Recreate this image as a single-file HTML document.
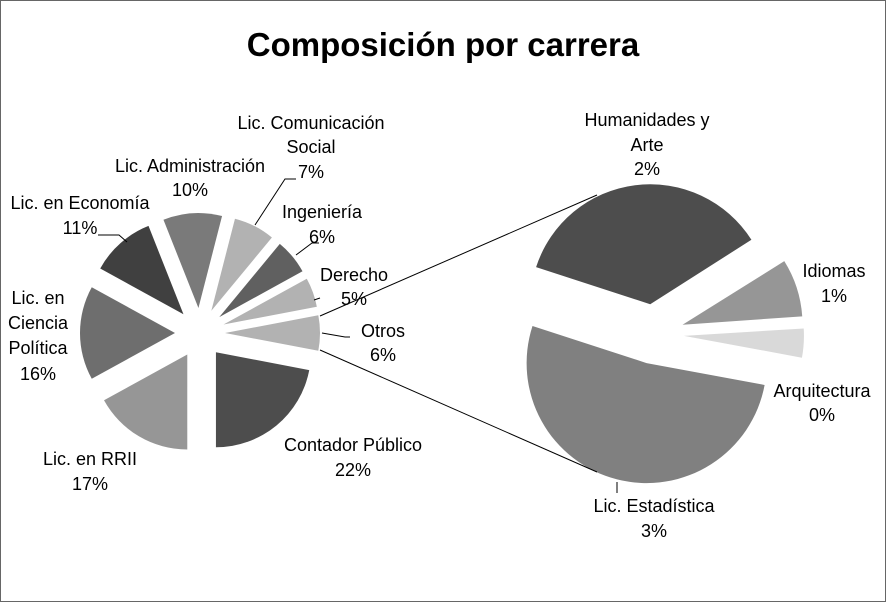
<!DOCTYPE html>
<html><head><meta charset="utf-8"><style>
html,body{margin:0;padding:0;background:#fff}
svg{display:block}
text{font-family:"Liberation Sans",sans-serif;font-size:18px;fill:#000}
</style></head><body>
<svg id="s" width="886" height="602" viewBox="0 0 886 602" xmlns="http://www.w3.org/2000/svg">
<rect x="0.5" y="0.5" width="885" height="601" fill="#fff" stroke="#666"/>
<text x="443" y="56" text-anchor="middle" style="font-size:33px;font-weight:bold">Composición por carrera</text>
<g id="pies"></g>
<g stroke="#000" stroke-width="1" fill="none">
<line x1="320" y1="316" x2="597" y2="195"/>
<line x1="320" y1="350" x2="597" y2="472"/>
<polyline points="255,225 285,179 296,179"/>
<polyline points="296,255 312,243 319,243"/>
<polyline points="322,333 345,337 350,337"/>
<polyline points="314,300 320,298"/>
<polyline points="127,242 119,235 98,235"/>
<line x1="617" y1="482" x2="617" y2="493"/>
</g>
<g text-anchor="middle">
<text x="311" y="129">Lic. Comunicación</text>
<text x="311" y="153">Social</text>
<text x="311" y="178">7%</text>
<text x="190" y="172">Lic. Administración</text>
<text x="190" y="196">10%</text>
<text x="80" y="209">Lic. en Economía</text>
<text x="80" y="234">11%</text>
<text x="322" y="218">Ingeniería</text>
<text x="322" y="243">6%</text>
<text x="354" y="281">Derecho</text>
<text x="354" y="305">5%</text>
<text x="383" y="337">Otros</text>
<text x="383" y="361">6%</text>
<text x="38" y="304">Lic. en</text>
<text x="38" y="329">Ciencia</text>
<text x="38" y="354">Política</text>
<text x="38" y="380">16%</text>
<text x="90" y="465">Lic. en RRII</text>
<text x="90" y="490">17%</text>
<text x="353" y="451">Contador Público</text>
<text x="353" y="476">22%</text>
<text x="647" y="126">Humanidades y</text>
<text x="647" y="151">Arte</text>
<text x="647" y="175">2%</text>
<text x="834" y="277">Idiomas</text>
<text x="834" y="302">1%</text>
<text x="822" y="397">Arquitectura</text>
<text x="822" y="421">0%</text>
<text x="654" y="512">Lic. Estadística</text>
<text x="654" y="537">3%</text>
</g>
</svg>
<script>
(function(){
var g=document.getElementById('pies'),ns='http://www.w3.org/2000/svg';
function slice(cx,cy,r,d,a0,a1,col){
 var rad=Math.PI/180,m=(a0+a1)/2*rad;
 var ox=cx+d*Math.sin(m),oy=cy-d*Math.cos(m);
 var x0=ox+r*Math.sin(a0*rad),y0=oy-r*Math.cos(a0*rad);
 var x1=ox+r*Math.sin(a1*rad),y1=oy-r*Math.cos(a1*rad);
 var p=document.createElementNS(ns,'path');
 p.setAttribute('d','M'+ox+','+oy+'L'+x0+','+y0+'A'+r+','+r+' 0 '+((a1-a0)>180?1:0)+' 1 '+x1+','+y1+'Z');
 p.setAttribute('fill',col);g.appendChild(p);
}
var L=[[79.2,100.8,'#b2b2b2'],[100.8,180,'#4d4d4d'],[180,241.2,'#969696'],[241.2,298.8,'#6e6e6e'],[298.8,338.4,'#404040'],[338.4,374.4,'#7a7a7a'],[14.4,39.6,'#b2b2b2'],[39.6,61.2,'#606060'],[61.2,79.2,'#b2b2b2']];
L.forEach(function(s){slice(200,333,95,25,s[0],s[1],s[2]);});
var R=[[-72,57.5,'#4d4d4d'],[58,86,'#969696'],[86.5,100.5,'#d9d9d9'],[100.5,288,'#808080']];
R.forEach(function(s){slice(654,334,120,30,s[0],s[1],s[2]);});
})();
</script>
</body></html>
